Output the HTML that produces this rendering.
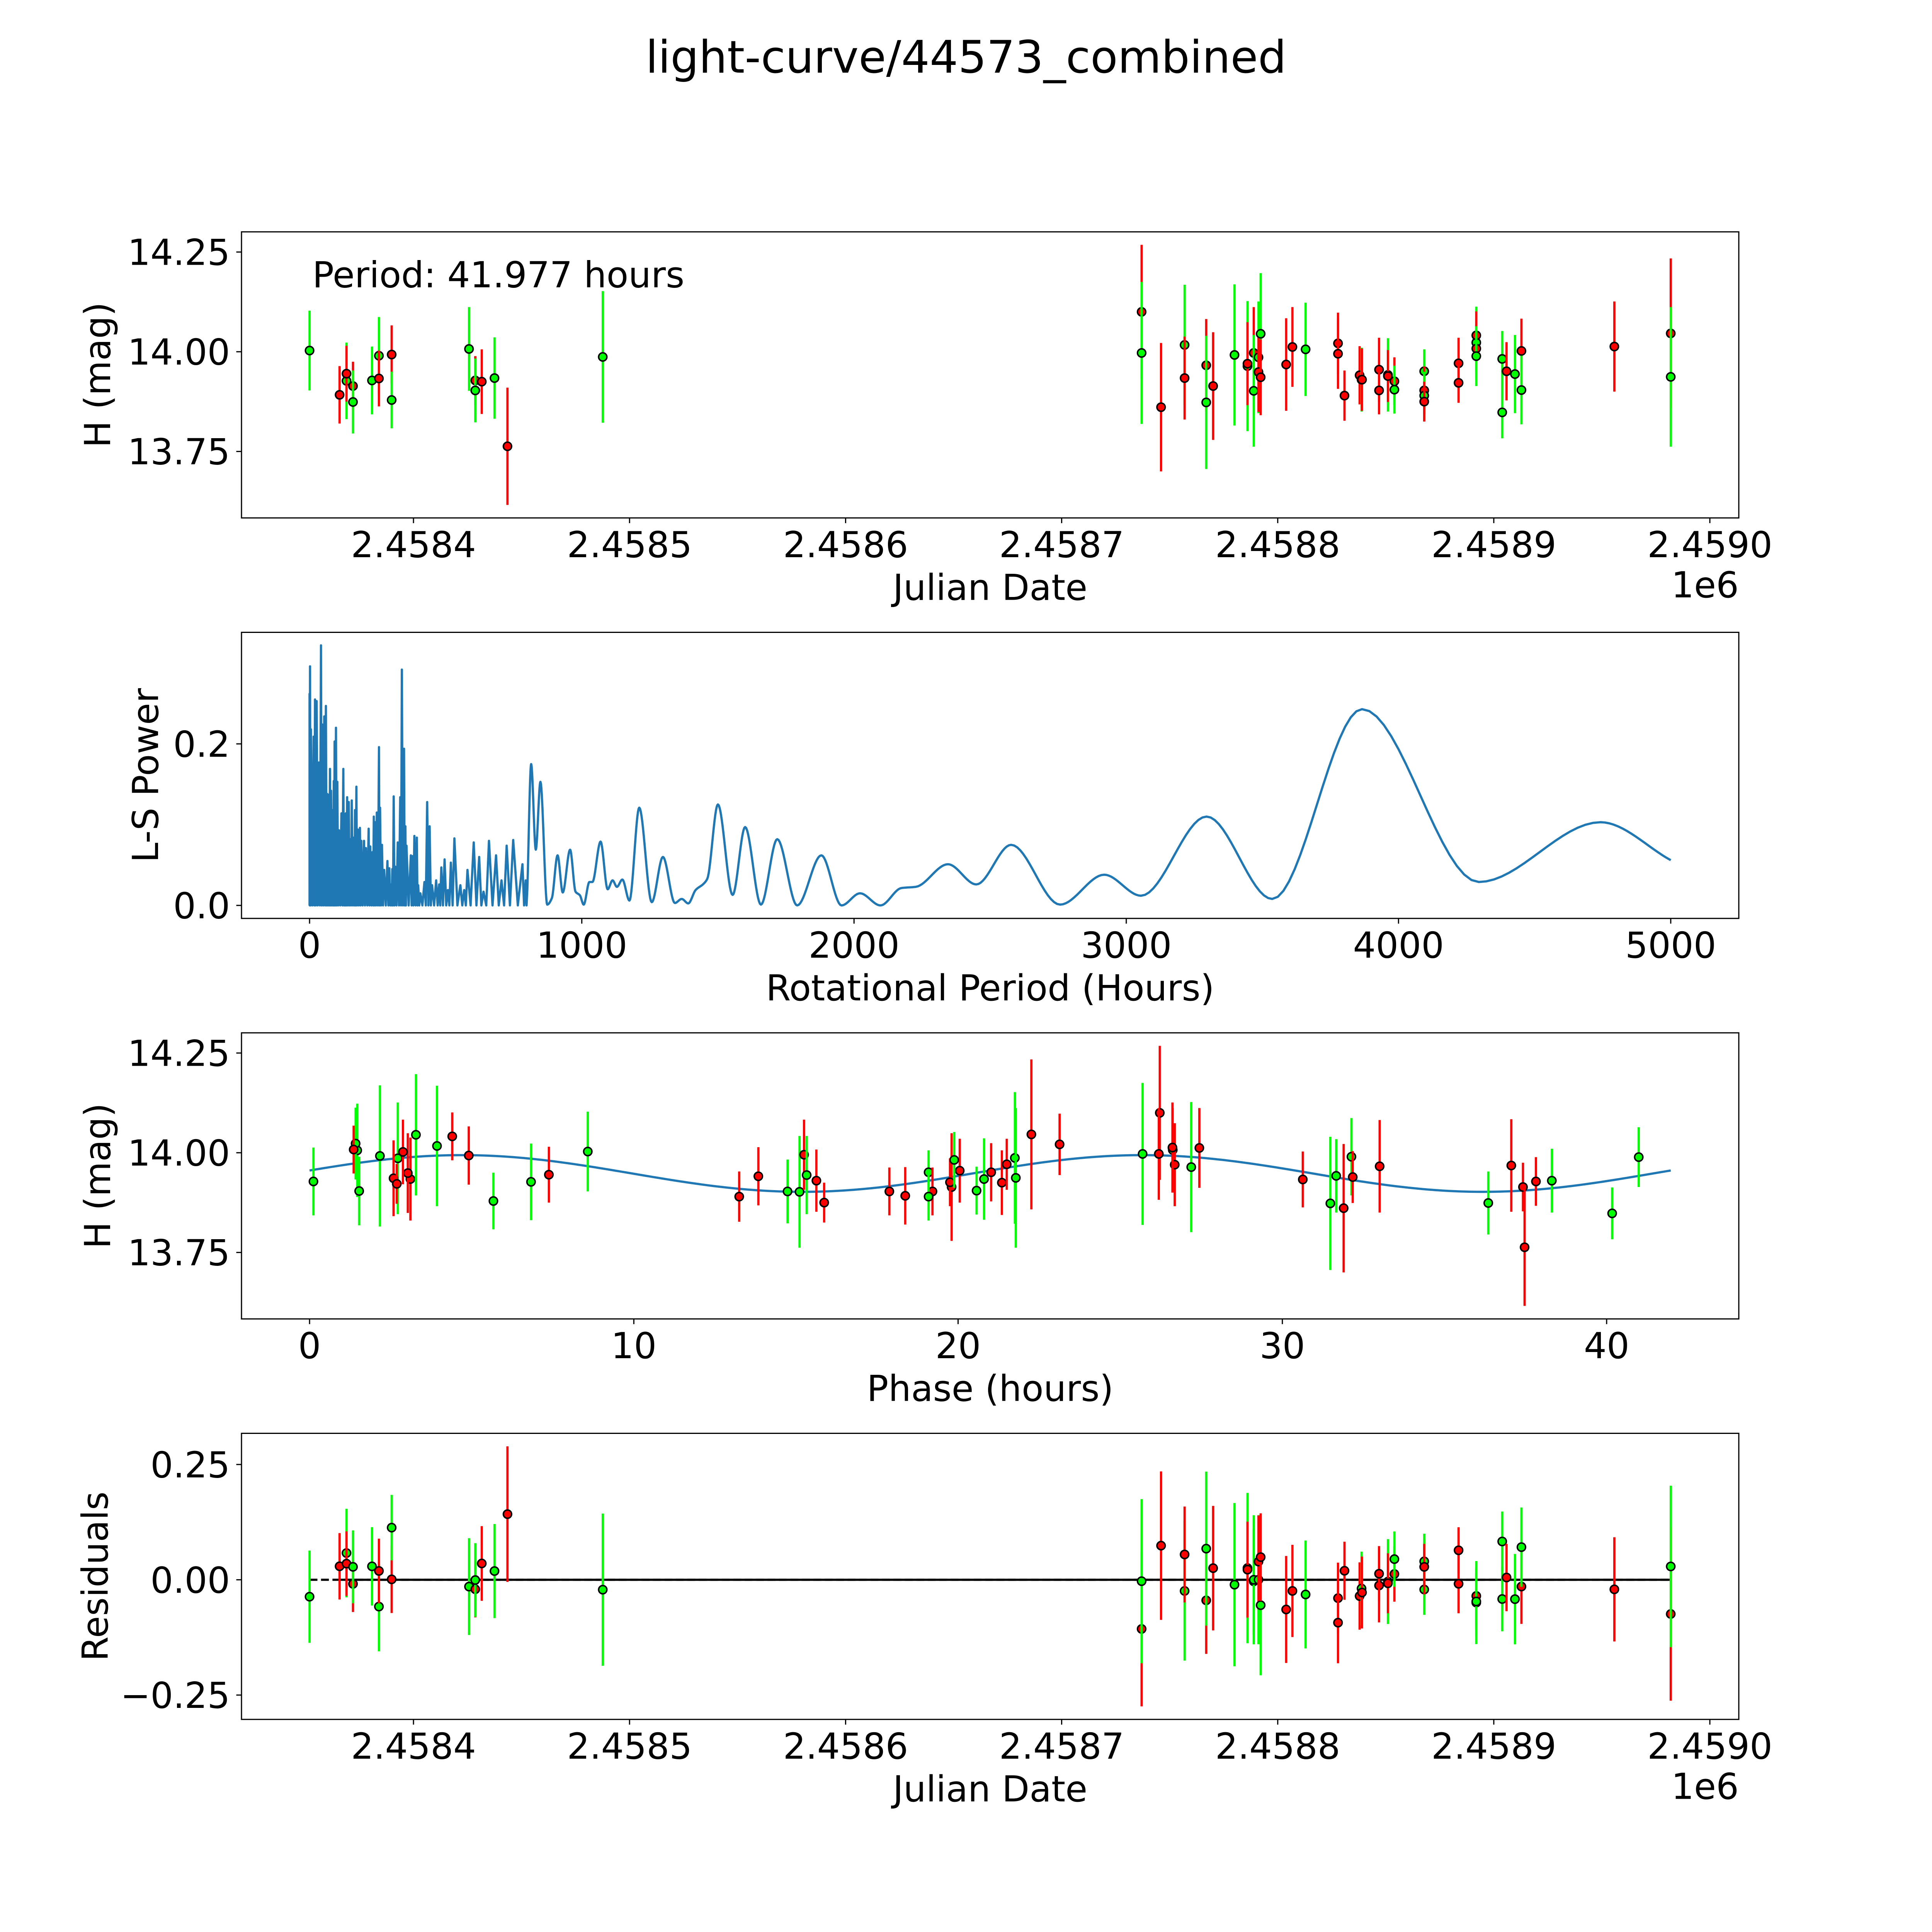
<!DOCTYPE html>
<html>
<head>
<meta charset="utf-8">
<title>light-curve/44573_combined</title>
<style>
  html, body { margin: 0; padding: 0; background: #ffffff; overflow: hidden; width: 100vw; height: 100vh; }
  svg { display: block; width: 100vw; height: 100vh; }
  text { font-family: "DejaVu Sans", "Liberation Sans", sans-serif; fill: #000; }
</style>
</head>
<body>
<svg id="fig" xmlns="http://www.w3.org/2000/svg" viewBox="0 0 5400 5400" preserveAspectRatio="none">
  <rect x="0" y="0" width="5400" height="5400" fill="#ffffff"></rect>
  <text x="2700" y="203" font-size="125" text-anchor="middle">light-curve/44573_combined</text>
</svg>
<script>
// ---------------- observation data ----------------
const obsJD = [
  2458351.9, 2458365.8, 2458369.0, 2458369.0, 2458372.0, 2458372.0, 2458380.8, 2458384.0, 2458384.0,
  2458389.9, 2458389.9, 2458425.7, 2458428.6, 2458428.6, 2458431.6, 2458437.5, 2458443.5, 2458487.6,
  2458737.0, 2458737.0, 2458746.0, 2458756.9, 2458756.9, 2458766.9, 2458766.9, 2458770.1, 2458780.0,
  2458786.0, 2458786.0, 2458788.9, 2458788.9, 2458791.1, 2458791.1, 2458792.1, 2458792.1, 2458803.9,
  2458806.8, 2458812.9, 2458827.9, 2458827.9, 2458830.9, 2458837.9, 2458838.8, 2458839.0, 2458846.9,
  2458846.9, 2458851.0, 2458851.0, 2458854.0, 2458854.0, 2458867.8, 2458867.8, 2458867.8, 2458867.8,
  2458883.7, 2458883.7, 2458891.9, 2458891.9, 2458891.9, 2458891.9, 2458903.9, 2458903.9, 2458905.9,
  2458909.8, 2458912.8, 2458912.8, 2458955.8, 2458981.9, 2458981.9
];
const obsMag = [
  14.003, 13.892, 13.927, 13.945, 13.914, 13.874, 13.928, 13.990, 13.933,
  13.993, 13.879, 14.007, 13.928, 13.903, 13.925, 13.934, 13.763, 13.987,
  14.100, 13.997, 13.861, 14.017, 13.934, 13.966, 13.873, 13.914, 13.992,
  13.964, 13.970, 13.997, 13.902, 13.986, 13.949, 14.045, 13.936, 13.968,
  14.012, 14.006, 14.021, 13.995, 13.890, 13.941, 13.930, 13.930, 13.955,
  13.903, 13.942, 13.939, 13.926, 13.905, 13.951, 13.903, 13.890, 13.875,
  13.971, 13.922, 14.023, 14.041, 14.008, 13.989, 13.982, 13.848, 13.951,
  13.944, 14.002, 13.904, 14.013, 14.046, 13.937
];
const obsErr = [
  0.100, 0.072, 0.096, 0.070, 0.061, 0.079, 0.085, 0.097, 0.070,
  0.073, 0.071, 0.105, 0.061, 0.080, 0.081, 0.102, 0.147, 0.165,
  0.168, 0.178, 0.161, 0.151, 0.104, 0.116, 0.167, 0.135, 0.177,
  0.163, 0.104, 0.115, 0.140, 0.140, 0.100, 0.152, 0.095, 0.116,
  0.100, 0.117, 0.077, 0.088, 0.063, 0.073, 0.080, 0.078, 0.080,
  0.060, 0.092, 0.065, 0.060, 0.060, 0.055, 0.060, 0.060, 0.050,
  0.064, 0.050, 0.090, 0.060, 0.060, 0.075, 0.070, 0.065, 0.073,
  0.098, 0.081, 0.086, 0.113, 0.188, 0.175
];
const obsBand = [
  'g','r','g','r','r','g','g','g','r',
  'r','g','g','r','g','r','g','r','g',
  'r','g','r','g','r','r','g','r','g',
  'g','r','r','g','g','r','g','r','r',
  'r','g','r','r','r','r','g','r','r',
  'r','g','r','r','g','g','r','g','r',
  'r','r','g','r','r','g','g','g','r',
  'g','r','g','r','r','g'
];
const obsPhase = [
  8.58, 18.37, 6.83, 7.38, 37.42, 36.35, 0.12, 32.13, 30.63,
  4.91, 5.67, 26.62, 37.82, 14.74, 21.35, 20.80, 37.47, 21.75,
  26.22, 25.69, 31.89, 3.93, 3.11, 33.00, 31.48, 19.80, 2.17,
  27.19, 26.68, 26.19, 15.11, 2.72, 3.03, 3.28, 2.59, 37.06,
  27.44, 1.47, 23.13, 15.25, 13.25, 13.84, 38.31, 15.63, 20.05,
  17.88, 31.66, 32.17, 19.75, 20.57, 19.09, 19.21, 19.09, 15.87,
  21.50, 2.69, 1.42, 4.40, 1.36, 40.99, 19.88, 40.17, 21.02,
  15.33, 2.88, 1.53, 26.61, 22.26, 21.78
];
const rotPeriodHours = 41.977;
const fitMean = 13.948;
const fitAmp = 0.046;
const fitPeakPhase = 4.7;
const bandColors = { g: '#00ff00', r: '#ff0000' };

// ---------------- periodogram data ----------------
const spikePeriods = [0, 1.7, 5, 15, 20, 26, 34, 42, 47, 54, 60, 65, 70, 75, 79, 85, 89, 92, 97, 102, 108, 117, 124, 129, 133, 138, 144, 150, 155, 163, 167, 172, 177, 185, 190, 200, 207, 217, 223, 231, 236, 241, 247, 255, 259, 266, 274, 286, 293, 300, 304, 309, 315, 324, 333, 339, 347, 352, 356, 372, 378, 385, 394, 399, 407, 422, 432, 441, 450, 465, 476, 484, 496, 508, 519, 532, 554, 568, 580, 603, 623, 639, 659, 685, 705, 724, 748, 782, 794];
const spikePowers = [0.262, 0.296, 0.218, 0.209, 0.255, 0.253, 0.177, 0.322, 0.224, 0.234, 0.247, 0.138, 0.137, 0.169, 0.142, 0.118, 0.154, 0.203, 0.220, 0.153, 0.093, 0.114, 0.169, 0.089, 0.114, 0.134, 0.128, 0.082, 0.130, 0.084, 0.118, 0.147, 0.094, 0.096, 0.080, 0.080, 0.071, 0.095, 0.073, 0.066, 0.110, 0.103, 0.115, 0.196, 0.121, 0.075, 0.044, 0.055, 0.046, 0.026, 0.045, 0.135, 0.048, 0.078, 0.134, 0.292, 0.194, 0.098, 0.074, 0.062, 0.061, 0.086, 0.084, 0.025, 0.015, 0.029, 0.128, 0.098, 0.025, 0.031, 0.026, 0.047, 0.057, 0.019, 0.053, 0.083, 0.025, 0.019, 0.044, 0.078, 0.060, 0.017, 0.080, 0.062, 0.031, 0.074, 0.081, 0.051, 0.031];
const smoothPeriods = [800, 814, 831, 848, 873, 890, 911, 930, 957, 977, 993, 1007, 1028, 1039, 1069, 1095, 1113, 1129, 1149, 1175, 1211, 1257, 1298, 1342, 1367, 1391, 1418, 1448, 1461, 1500, 1554, 1600, 1658, 1718, 1791, 1880, 1954, 2022, 2097, 2174, 2227, 2345, 2449, 2577, 2757, 2919, 3054, 3295, 3536, 3866, 4295, 4742, 5000];
const smoothPowers = [0.020, 0.175, 0.069, 0.153, 0.001, 0.009, 0.062, 0.016, 0.069, 0.017, 0.0125, 0.001, 0.029, 0.029, 0.079, 0.020, 0.031, 0.023, 0.032, 0.006, 0.121, 0.004, 0.060, 0.003, 0.008, 0.0025, 0.019, 0.027, 0.033, 0.125, 0.013, 0.097, 0.001, 0.082, 0.000, 0.062, 0.000, 0.015, 0.000, 0.0215, 0.023, 0.051, 0.026, 0.075, 0.001, 0.038, 0.012, 0.110, 0.008, 0.243, 0.029, 0.103, 0.056];
const spikeFloor = 0;

// ---------------- tick definitions ----------------
const jdTicks = [2458400, 2458500, 2458600, 2458700, 2458800, 2458900, 2459000];
const magTicks = [13.75, 14.00, 14.25];
const periodTicks = [0, 1000, 2000, 3000, 4000, 5000];
const powerTicks = [0.0, 0.2];
const phaseTicks = [0, 10, 20, 30, 40];
const residTicks = [-0.25, 0.00, 0.25];

// ---------------- layout ----------------
const NS = 'http://www.w3.org/2000/svg';
const svg = document.getElementById('fig');
const AX_L = 675, AX_R = 4860, AX_H = 799.6;
const PANEL_TOPS = [648, 1767.4, 2886.8, 4006.2];
const FS = 100;

function mk(tag, parent) {
  const e = document.createElementNS(NS, tag);
  parent.appendChild(e);
  return e;
}
function scale(d0, d1, r0, r1) { return v => r0 + (v - d0) / (d1 - d0) * (r1 - r0); }
function padded(lo, hi) { const m = (hi - lo) * 0.05; return [lo - m, hi + m]; }
function model(ph) { return fitMean + fitAmp * Math.cos(2 * Math.PI * (ph - fitPeakPhase) / (rotPeriodHours / 2)); }
function fmtMinus(s) { return s.replace('-', '\u2212'); }

function drawFrame(g, top, sx, sy, xt, xfmt, yt, yfmt, prefix) {
  const bottom = top + AX_H;
  xt.forEach(v => {
    const x = sx(v);
    const t = mk('line', g);
    
    
    t.setAttribute('x1', x); t.setAttribute('x2', x);
    t.setAttribute('y1', bottom); t.setAttribute('y2', bottom + 14.6);
    t.setAttribute('stroke', '#000'); t.setAttribute('stroke-width', 3.3);
    const lb = mk('text', g);
    
    
    lb.setAttribute('x', x); lb.setAttribute('y', bottom + 110);
    lb.setAttribute('font-size', FS); lb.setAttribute('text-anchor', 'middle');
    lb.textContent = xfmt(v);
  });
  yt.forEach(v => {
    const y = sy(v);
    const t = mk('line', g);
    
    
    t.setAttribute('x1', AX_L - 14.6); t.setAttribute('x2', AX_L);
    t.setAttribute('y1', y); t.setAttribute('y2', y);
    t.setAttribute('stroke', '#000'); t.setAttribute('stroke-width', 3.3);
    const lb = mk('text', g);
    
    
    lb.setAttribute('x', AX_L - 32); lb.setAttribute('y', y + 36);
    lb.setAttribute('font-size', FS); lb.setAttribute('text-anchor', 'end');
    lb.textContent = yfmt(v);
  });
}
function drawSpines(g, top, prefix) {
  const r = mk('rect', g);
  
  
  r.setAttribute('x', AX_L); r.setAttribute('y', top);
  r.setAttribute('width', AX_R - AX_L); r.setAttribute('height', AX_H);
  r.setAttribute('fill', 'none'); r.setAttribute('stroke', '#000'); r.setAttribute('stroke-width', 3.3);
}
function xLabel(g, top, txt, name) {
  const t = mk('text', g);
  
  
  t.setAttribute('x', (AX_L + AX_R) / 2); t.setAttribute('y', top + AX_H + 229);
  t.setAttribute('font-size', FS); t.setAttribute('text-anchor', 'middle');
  t.textContent = txt;
}
function yLabel(g, top, txt, cx, name) {
  const t = mk('text', g);
  
  
  t.setAttribute('transform', 'translate(' + cx + ',' + (top + AX_H / 2) + ') rotate(-90)');
  t.setAttribute('x', 0); t.setAttribute('y', 0);
  t.setAttribute('font-size', FS); t.setAttribute('text-anchor', 'middle');
  t.setAttribute('dominant-baseline', 'central');
  t.textContent = txt;
}
function offsetLabel(g, top, name) {
  const t = mk('text', g);
  
  
  t.setAttribute('x', AX_R); t.setAttribute('y', top + AX_H + 222);
  t.setAttribute('font-size', FS); t.setAttribute('text-anchor', 'end');
  t.textContent = '1e6';
}
function drawPoints(g, xs, ys, errs, bands, sx, sy, prefix) {
  for (let i = 0; i < xs.length; i++) {
    const col = bandColors[bands[i]];
    const x = sx(xs[i]);
    const bar = mk('line', g);
    
    
    bar.setAttribute('x1', x); bar.setAttribute('x2', x);
    bar.setAttribute('y1', sy(ys[i] - errs[i])); bar.setAttribute('y2', sy(ys[i] + errs[i]));
    bar.setAttribute('stroke', col); bar.setAttribute('stroke-width', 6.25);
    const c = mk('circle', g);
    
    
    c.setAttribute('cx', x); c.setAttribute('cy', sy(ys[i]));
    c.setAttribute('r', 11.5);
    c.setAttribute('fill', col); c.setAttribute('stroke', '#000'); c.setAttribute('stroke-width', 4.2);
  }
}
function makeClip(id, top) {
  let defs = svg.querySelector('defs');
  if (!defs) { defs = document.createElementNS(NS, 'defs'); svg.insertBefore(defs, svg.firstChild); }
  const cp = document.createElementNS(NS, 'clipPath');
  cp.setAttribute('id', id);
  defs.appendChild(cp);
  const r = document.createElementNS(NS, 'rect');
  r.setAttribute('x', AX_L); r.setAttribute('y', top); r.setAttribute('width', AX_R - AX_L); r.setAttribute('height', AX_H);
  cp.appendChild(r);
}

// shared limits
const jdLim = padded(Math.min(...obsJD), Math.max(...obsJD));
const magLim = padded(Math.min(...obsMag.map((m, i) => m - obsErr[i])), Math.max(...obsMag.map((m, i) => m + obsErr[i])));
const jdFmt = v => (v / 1e6).toFixed(4);
const magFmt = v => v.toFixed(2);

// ================= Panel 1: light curve =================
(function () {
  const top = PANEL_TOPS[0];
  const g = mk('g', svg);
  
  
  makeClip('clip1', top);
  const sx = scale(jdLim[0], jdLim[1], AX_L, AX_R);
  const sy = scale(magLim[0], magLim[1], top + AX_H, top);
  const pg = mk('g', g);
  
  
  pg.setAttribute('clip-path', 'url(#clip1)');
  drawPoints(pg, obsJD, obsMag, obsErr, obsBand, sx, sy, 'light-curve');
  drawFrame(g, top, sx, sy, jdTicks, jdFmt, magTicks, magFmt, 'light-curve');
  drawSpines(g, top, 'light-curve');
  xLabel(g, top, 'Julian Date', 'light-curve-x-axis-title');
  yLabel(g, top, 'H (mag)', 273, 'light-curve-y-axis-title');
  offsetLabel(g, top, 'light-curve-x-offset-label');
  const pt = mk('text', g);
  
  
  pt.setAttribute('x', 873); pt.setAttribute('y', 803);
  pt.setAttribute('font-size', FS);
  pt.textContent = 'Period: ' + rotPeriodHours.toFixed(3) + ' hours';
})();

// ================= Panel 2: periodogram =================
(function () {
  const top = PANEL_TOPS[1];
  const g = mk('g', svg);
  
  
  makeClip('clip2', top);
  const allP = spikePowers.concat(smoothPowers);
  const xl = padded(0, smoothPeriods[smoothPeriods.length - 1]);
  const yl = padded(Math.min(0, ...allP), Math.max(...allP));
  const sx = scale(xl[0], xl[1], AX_L, AX_R);
  const sy = scale(yl[0], yl[1], top + AX_H, top);
  const pts = [];
  for (let i = 0; i < spikePeriods.length; i++) {
    if (i === 0) pts.push([spikePeriods[0], spikeFloor]);
    pts.push([spikePeriods[i], spikePowers[i]]);
    const nextP = (i + 1 < spikePeriods.length) ? spikePeriods[i + 1] : smoothPeriods[0];
    pts.push([(spikePeriods[i] + nextP) / 2, spikeFloor]);
  }
  const n = smoothPeriods.length;
  const d = [], m = [];
  for (let i = 0; i < n - 1; i++) d.push((smoothPowers[i + 1] - smoothPowers[i]) / (smoothPeriods[i + 1] - smoothPeriods[i]));
  for (let i = 0; i < n; i++) {
    if (i === 0) m.push(d[0]);
    else if (i === n - 1) m.push(d[n - 2]);
    else if (d[i - 1] * d[i] <= 0) m.push(0);
    else {
      const h0 = smoothPeriods[i] - smoothPeriods[i - 1], h1 = smoothPeriods[i + 1] - smoothPeriods[i];
      const w1 = 2 * h1 + h0, w2 = h1 + 2 * h0;
      m.push((w1 + w2) / (w1 / d[i - 1] + w2 / d[i]));
    }
  }
  for (let i = 0; i < n - 1; i++) {
    const x0 = smoothPeriods[i], x1 = smoothPeriods[i + 1], y0 = smoothPowers[i], y1 = smoothPowers[i + 1];
    const h = x1 - x0;
    const steps = 16;
    for (let k = 0; k < steps; k++) {
      const t = k / steps;
      const h00 = 2 * t * t * t - 3 * t * t + 1, h10 = t * t * t - 2 * t * t + t, h01 = -2 * t * t * t + 3 * t * t, h11 = t * t * t - t * t;
      pts.push([x0 + t * h, h00 * y0 + h10 * h * m[i] + h01 * y1 + h11 * h * m[i + 1]]);
    }
  }
  pts.push([smoothPeriods[n - 1], smoothPowers[n - 1]]);
  const path = mk('path', g);
  
  
  path.setAttribute('clip-path', 'url(#clip2)');
  path.setAttribute('d', pts.map((p, i) => (i ? 'L' : 'M') + sx(p[0]).toFixed(2) + ' ' + sy(p[1]).toFixed(2)).join(''));
  path.setAttribute('fill', 'none'); path.setAttribute('stroke', '#1f77b4');
  path.setAttribute('stroke-width', 6.25); path.setAttribute('stroke-linejoin', 'round');
  drawFrame(g, top, sx, sy, periodTicks, v => String(v), powerTicks, v => v.toFixed(1), 'periodogram');
  drawSpines(g, top, 'periodogram');
  xLabel(g, top, 'Rotational Period (Hours)', 'periodogram-x-axis-title');
  yLabel(g, top, 'L-S Power', 407, 'periodogram-y-axis-title');
})();

// ================= Panel 3: phase-folded =================
(function () {
  const top = PANEL_TOPS[2];
  const g = mk('g', svg);
  
  
  makeClip('clip3', top);
  const xl = padded(0, rotPeriodHours);
  const sx = scale(xl[0], xl[1], AX_L, AX_R);
  const sy = scale(magLim[0], magLim[1], top + AX_H, top);
  const cp = [];
  for (let k = 0; k <= 400; k++) { const ph = rotPeriodHours * k / 400; cp.push([ph, model(ph)]); }
  const curve = mk('path', g);
  
  
  curve.setAttribute('clip-path', 'url(#clip3)');
  curve.setAttribute('d', cp.map((p, i) => (i ? 'L' : 'M') + sx(p[0]).toFixed(2) + ' ' + sy(p[1]).toFixed(2)).join(''));
  curve.setAttribute('fill', 'none'); curve.setAttribute('stroke', '#1f77b4'); curve.setAttribute('stroke-width', 6.25);
  const pg = mk('g', g);
  
  
  pg.setAttribute('clip-path', 'url(#clip3)');
  drawPoints(pg, obsPhase, obsMag, obsErr, obsBand, sx, sy, 'phase');
  drawFrame(g, top, sx, sy, phaseTicks, v => String(v), magTicks, magFmt, 'phase');
  drawSpines(g, top, 'phase');
  xLabel(g, top, 'Phase (hours)', 'phase-x-axis-title');
  yLabel(g, top, 'H (mag)', 273, 'phase-y-axis-title');
})();

// ================= Panel 4: residuals =================
(function () {
  const top = PANEL_TOPS[3];
  const g = mk('g', svg);
  
  
  makeClip('clip4', top);
  const resid = obsMag.map((mg, i) => model(obsPhase[i]) - mg);
  const yl = padded(Math.min(...resid.map((r, i) => r - obsErr[i])), Math.max(...resid.map((r, i) => r + obsErr[i])));
  const sx = scale(jdLim[0], jdLim[1], AX_L, AX_R);
  const sy = scale(yl[0], yl[1], top + AX_H, top);
  const jdMin = Math.min(...obsJD), jdMax = Math.max(...obsJD);
  const redJD = obsJD.filter((v, i) => obsBand[i] === 'r');
  const dash = mk('line', g);
  
  
  dash.setAttribute('x1', sx(jdMin)); dash.setAttribute('x2', sx(jdMax));
  dash.setAttribute('y1', sy(0)); dash.setAttribute('y2', sy(0));
  dash.setAttribute('stroke', '#000'); dash.setAttribute('stroke-width', 6); dash.setAttribute('stroke-dasharray', '22 10');
  const solid = mk('line', g);
  
  
  solid.setAttribute('x1', sx(Math.min(...redJD))); solid.setAttribute('x2', sx(jdMax));
  solid.setAttribute('y1', sy(0)); solid.setAttribute('y2', sy(0));
  solid.setAttribute('stroke', '#000'); solid.setAttribute('stroke-width', 6);
  const pg = mk('g', g);
  
  
  pg.setAttribute('clip-path', 'url(#clip4)');
  drawPoints(pg, obsJD, resid, obsErr, obsBand, sx, sy, 'residual');
  drawFrame(g, top, sx, sy, jdTicks, jdFmt, residTicks, v => fmtMinus(v.toFixed(2)), 'residuals');
  drawSpines(g, top, 'residuals');
  xLabel(g, top, 'Julian Date', 'residuals-x-axis-title');
  yLabel(g, top, 'Residuals', 266, 'residuals-y-axis-title');
  offsetLabel(g, top, 'residuals-x-offset-label');
})();
</script>
</body>
</html>
